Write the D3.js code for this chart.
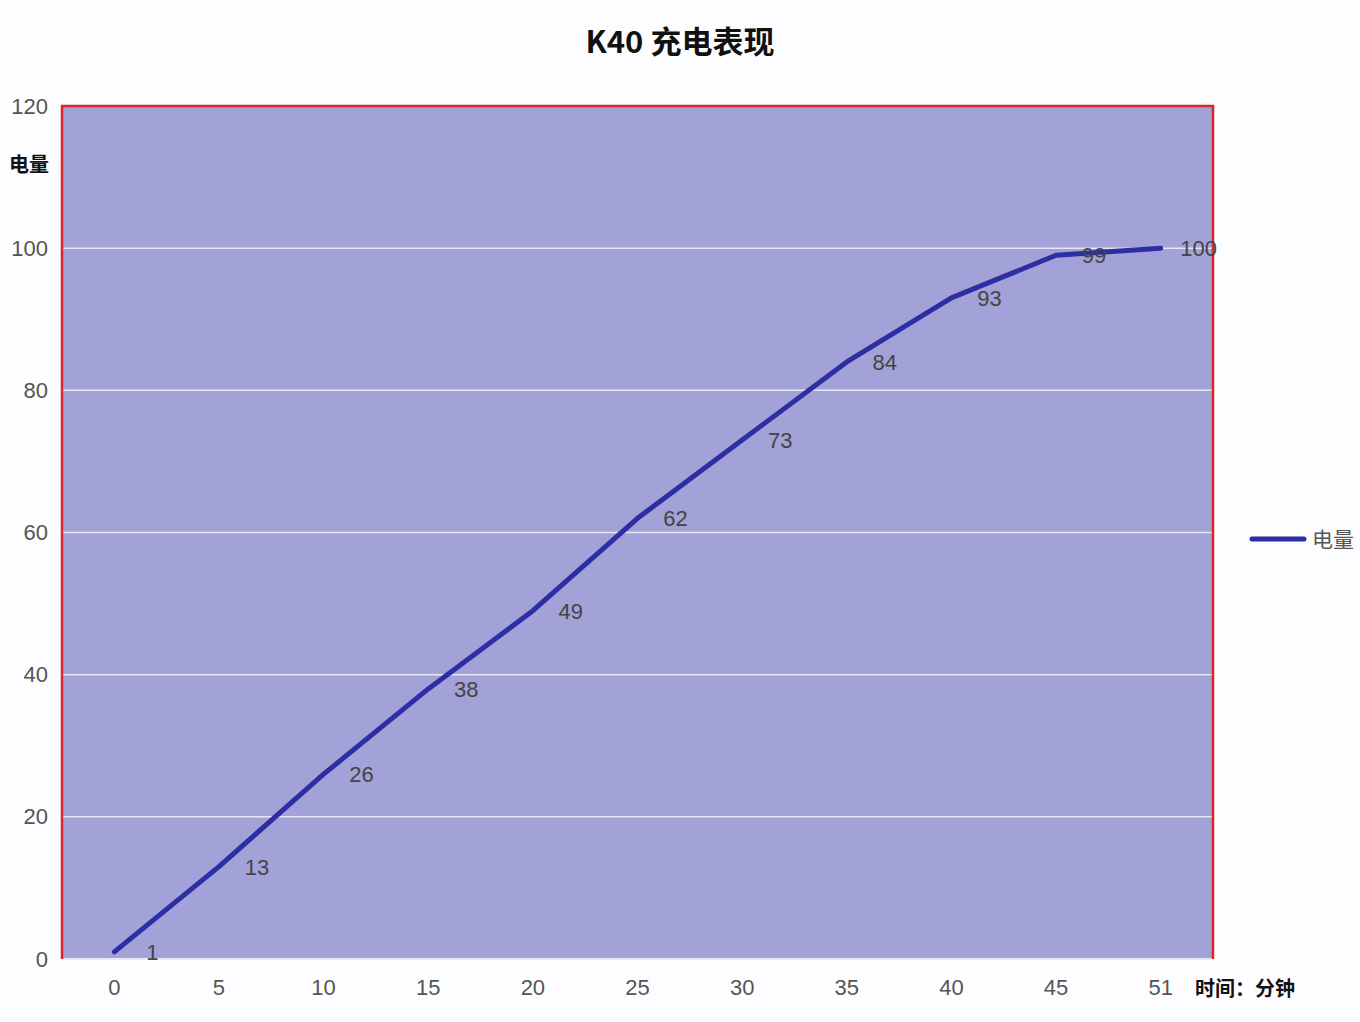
<!DOCTYPE html>
<html><head><meta charset="utf-8">
<script src="https://cdn.jsdelivr.net/npm/d3@7/dist/d3.min.js"></script>
<style>body{margin:0;background:#fdfdff;}</style></head>
<body><svg id="c" width="1360" height="1022"></svg>
<script>
const categories = ["0","5","10","15","20","25","30","35","40","45","51"];
const values = [1,13,26,38,49,62,73,84,93,99,100];
const yTicks = [0,20,40,60,80,100,120];
const title = "K40 充电表现";
const seriesName = "电量";
const xTitle = "时间：分钟";

const svg = d3.select("#c");
const L=62,R=1213,T=106,B=959;
const x = d3.scaleBand().domain(categories).range([L,R]);
const y = d3.scaleLinear().domain([0,120]).range([B,T]);
const font = "'Noto Sans CJK SC', 'Liberation Sans', sans-serif";

svg.append("rect").attr("x",L).attr("y",T).attr("width",R-L).attr("height",B-T).attr("fill","#a2a1d8");
svg.append("g").selectAll("line").data(yTicks.filter(d=>d>0&&d<120)).join("line")
  .attr("x1",L).attr("x2",R).attr("y1",d=>y(d)).attr("y2",d=>y(d))
  .attr("stroke","#e6e6f4").attr("stroke-width",1.5);
svg.append("line").attr("x1",L).attr("x2",R).attr("y1",B).attr("y2",B).attr("stroke","#e8e8f4").attr("stroke-width",2);
svg.append("path").attr("d",`M${L},${B}V${T}H${R}V${B}`).attr("fill","none").attr("stroke","#d9262e").attr("stroke-width",2.5);

const ya = d3.axisLeft(y).tickValues(yTicks).tickSize(0).tickPadding(14);
svg.append("g").attr("transform",`translate(${L},0)`).call(ya)
  .call(g=>g.select(".domain").remove())
  .selectAll("text").attr("font-size",22).attr("fill","#555").attr("font-family","'Liberation Sans',Arial");
const xa = d3.axisBottom(x).tickSize(0).tickPadding(20);
svg.append("g").attr("transform",`translate(0,${B})`).call(xa)
  .call(g=>g.select(".domain").remove())
  .selectAll("text").attr("font-size",22).attr("fill","#555").attr("font-family","'Liberation Sans',Arial");

const line = d3.line().x((d,i)=>x(categories[i])+x.bandwidth()/2).y(d=>y(d));
svg.append("path").datum(values).attr("d",line).attr("fill","none").attr("stroke","#2b2fa3").attr("stroke-width",5).attr("stroke-linecap","round").attr("stroke-linejoin","round");
svg.append("g").selectAll("text").data(values).join("text")
  .attr("x",(d,i)=>x(categories[i])+x.bandwidth()/2+38).attr("y",d=>y(d)+8)
  .attr("text-anchor","middle").attr("font-size",22).attr("fill","#444").attr("font-family","'Liberation Sans',Arial")
  .text(d=>d);

svg.append("text").attr("x",680).attr("y",53).attr("text-anchor","middle").attr("font-size",31).attr("font-weight","bold").attr("font-family",font).attr("fill","#111").text(title);
svg.append("text").attr("x",29).attr("y",172).attr("text-anchor","middle").attr("font-size",20).attr("font-weight","bold").attr("font-family",font).attr("fill","#111").text(seriesName);
svg.append("text").attr("x",1195).attr("y",996).attr("font-size",20).attr("font-weight","bold").attr("font-family",font).attr("fill","#111").text(xTitle);
svg.append("line").attr("x1",1252).attr("x2",1304).attr("y1",539).attr("y2",539).attr("stroke","#2b2fa3").attr("stroke-width",5).attr("stroke-linecap","round");
svg.append("text").attr("x",1312).attr("y",547).attr("font-size",21).attr("font-family",font).attr("fill","#555").text(seriesName);
</script></body></html>
